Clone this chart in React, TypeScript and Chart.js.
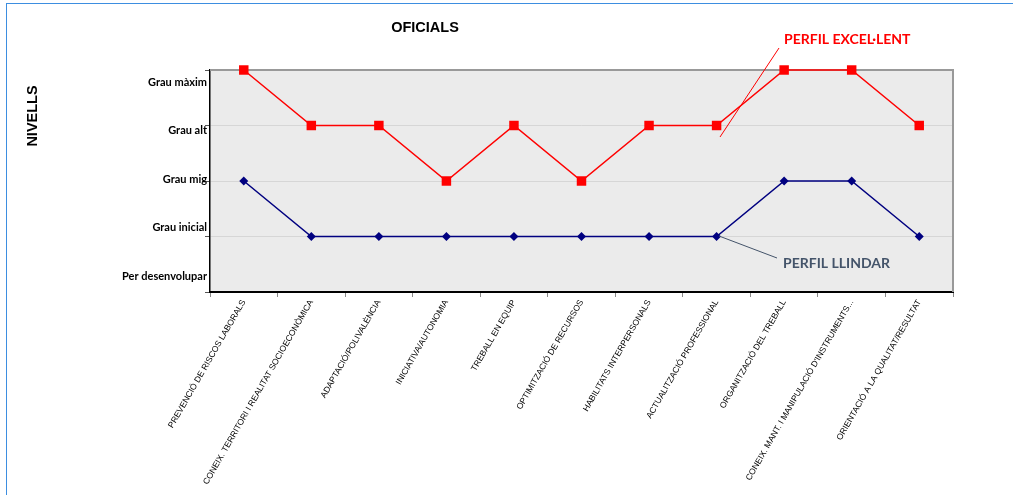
import React, { useEffect, useRef } from 'react';
import { Chart, registerables } from 'chart.js';

Chart.register(...registerables);

const categories = [
  'PREVENCIÓ DE RISCOS LABORALS',
  'CONEIX. TERRITORI I REALITAT SOCIOECONÒMICA',
  'ADAPTACIÓ/POLIVALÈNCIA',
  'INICIATIVA/AUTONOMIA',
  'TREBALL EN EQUIP',
  'OPTIMITZACIÓ DE RECURSOS',
  'HABILITATS INTERPERSONALS',
  'ACTUALITZACIÓ PROFESSIONAL',
  'ORGANITZACIÓ DEL TREBALL',
  "CONEIX. MANT. I MANIPULACIÓ D'INSTRUMENTS...",
  'ORIENTACIÓ A LA QUALITAT/RESULTAT',
];

const excelentValues = [4, 3, 3, 2, 3, 2, 3, 3, 4, 4, 3];
const llindarValues = [2, 1, 1, 1, 1, 1, 1, 1, 2, 2, 1];

const levelLabels = ['Per desenvolupar', 'Grau inicial', 'Grau mig', 'Grau alt', 'Grau màxim'];

const chartTitle = 'OFICIALS';
const yAxisTitle = 'NIVELLS';
const excelentLabel = 'PERFIL EXCEL·LENT';
const llindarLabel = 'PERFIL LLINDAR';

const decorPlugin = {
  id: 'decor',
  beforeDraw(chart: any) {
    const { ctx, chartArea: a } = chart;
    ctx.save();
    ctx.fillStyle = '#ebebeb';
    ctx.fillRect(a.left, a.top, a.right - a.left, a.bottom - a.top);
    ctx.restore();
  },
  beforeDatasetsDraw(chart: any) {
    const { ctx, chartArea: a } = chart;
    ctx.save();
    ctx.strokeStyle = '#999999';
    ctx.lineWidth = 2;
    ctx.beginPath();
    ctx.moveTo(a.left, a.top);
    ctx.lineTo(a.right, a.top);
    ctx.lineTo(a.right, a.bottom);
    ctx.stroke();
    ctx.restore();
  },
  afterDraw(chart: any) {
    const { ctx } = chart;
    ctx.save();
    // title
    ctx.fillStyle = '#000';
    ctx.font = 'bold 14.5px "Liberation Sans", Arial, sans-serif';
    ctx.textAlign = 'center';
    ctx.textBaseline = 'middle';
    ctx.fillText(chartTitle, 425, 28);
    // y axis title
    ctx.save();
    ctx.translate(33, 116);
    ctx.rotate(-Math.PI / 2);
    ctx.fillText(yAxisTitle, 0, 0);
    ctx.restore();
    // callout lines
    ctx.lineWidth = 1;
    ctx.strokeStyle = '#ff0000';
    ctx.beginPath();
    ctx.moveTo(779, 48);
    ctx.lineTo(720, 137);
    ctx.stroke();
    ctx.strokeStyle = '#44546a';
    ctx.beginPath();
    ctx.moveTo(719, 236);
    ctx.lineTo(777, 258);
    ctx.stroke();
    // annotation texts
    ctx.textAlign = 'left';
    ctx.font = 'bold 14px Lato, "Open Sans", sans-serif';
    ctx.fillStyle = '#ff0000';
    ctx.fillText(excelentLabel, 784, 39);
    ctx.fillStyle = '#44546a';
    ctx.fillText(llindarLabel, 783, 263);
    ctx.restore();
  },
};

export default function App() {
  const canvasRef = useRef<HTMLCanvasElement | null>(null);

  useEffect(() => {
    if (!canvasRef.current) return;
    const chart = new Chart(canvasRef.current, {
      type: 'line',
      data: {
        labels: categories,
        datasets: [
          {
            label: excelentLabel,
            data: excelentValues,
            borderColor: '#ff0000',
            backgroundColor: '#ff0000',
            borderWidth: 1.5,
            pointStyle: 'rect',
            pointRadius: 6.7,
            pointBorderWidth: 0,
            tension: 0,
            clip: false as any,
            yAxisID: 'y',
          },
          {
            label: llindarLabel,
            data: llindarValues,
            borderColor: '#000080',
            backgroundColor: '#000080',
            borderWidth: 1.5,
            pointStyle: 'rectRot',
            pointRadius: 4.5,
            pointBorderWidth: 0,
            tension: 0,
            clip: false as any,
            yAxisID: 'y',
          },
        ],
      },
      options: {
        animation: false,
        responsive: true,
        maintainAspectRatio: false,
        layout: { padding: { top: 70, right: 60, bottom: 0, left: 0 } },
        plugins: {
          legend: { display: false },
          tooltip: { enabled: false },
          title: { display: false },
        },
        scales: {
          x: {
            type: 'category',
            offset: true,
            grid: { offset: true, drawOnChartArea: false, tickLength: 5, color: '#888888' },
            border: { color: '#000000', width: 2 },
            ticks: {
              autoSkip: false,
              maxRotation: 60,
              minRotation: 60,
              padding: 1,
              color: '#000',
              font: { family: '"Liberation Sans", Arial, sans-serif', size: 8.5 },
            },
            afterFit: (s: any) => {
              s.height = 203;
            },
          },
          y: {
            type: 'linear',
            position: 'left',
            weight: 0,
            min: 0,
            max: 4,
            ticks: { display: false, stepSize: 1 },
            grid: { color: '#d6d6d6', tickLength: 5, tickColor: '#555555' },
            border: { color: '#000000', width: 1.5 },
            afterFit: (s: any) => {
              s.width = 0;
            },
          },
          yl: {
            type: 'linear',
            position: 'left',
            weight: 1,
            min: -0.33,
            max: 4.247,
            afterBuildTicks: (s: any) => {
              s.ticks = levelLabels.map((_, i) => ({ value: i }));
            },
            ticks: {
              autoSkip: false,
              padding: 3,
              color: '#000',
              font: { family: 'Lato, "Open Sans", sans-serif', size: 11, weight: 'bold' },
              callback: (_v: any, i: number) => levelLabels[i],
            },
            grid: { display: false, drawTicks: false },
            border: { display: false },
            afterFit: (s: any) => {
              s.width = 210;
            },
          },
        },
      } as any,
      plugins: [decorPlugin],
    });
    return () => chart.destroy();
  }, []);

  return (
    <div style={{ position: 'absolute', left: 0, top: 0, width: 1013, height: 495, background: '#fff' }}>
      <canvas ref={canvasRef} />
      <div
        style={{
          position: 'absolute',
          left: 6,
          top: 3,
          width: 1013,
          height: 495,
          borderTop: '1.5px solid #3d8ee0',
          borderLeft: '1.5px solid #3d8ee0',
          pointerEvents: 'none',
        }}
      />
    </div>
  );
}
